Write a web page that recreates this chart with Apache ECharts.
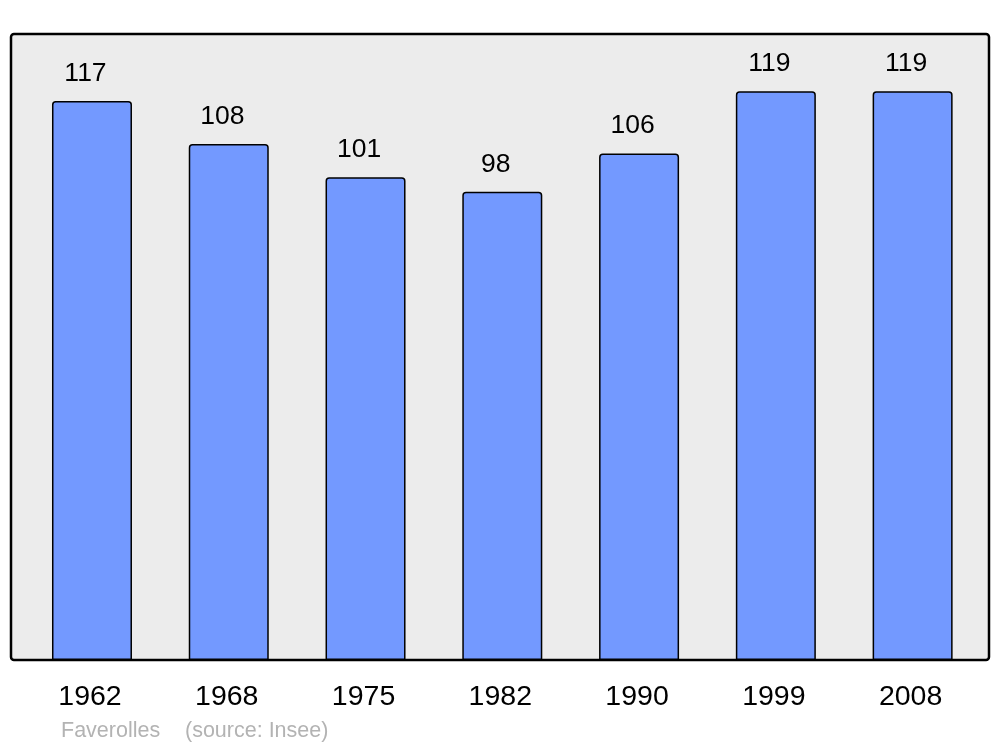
<!DOCTYPE html>
<html><head><meta charset="utf-8">
<script src="https://cdn.jsdelivr.net/npm/echarts@6/dist/echarts.min.js"></script>
<style>html,body{margin:0;padding:0;background:#fff}#c{width:1000px;height:747px}</style>
</head><body><div id="c"></div>
<script>
const categories = ['1962','1968','1975','1982','1990','1999','2008'];
const population = [117,108,101,98,106,119,119];
const footerName = 'Faverolles';
const footerSource = '(source: Insee)';

const chart = echarts.init(document.getElementById('c'), null, {renderer:'canvas'});
chart.setOption({
  animation:false,
  backgroundColor:'#ffffff',
  textStyle:{fontFamily:'Liberation Sans, Arial, sans-serif'},
  graphic:[
    {type:'rect', z:-10, shape:{x:11,y:34,width:978,height:626,r:3},
     style:{fill:'#ececec',stroke:'#000',lineWidth:2.5}},
    {type:'text', left:61, top:720, style:{text:footerName, fill:'#b3b3b3', font:'21.5px "Liberation Sans", Arial, sans-serif'}},
    {type:'text', left:185, top:720, style:{text:footerSource, fill:'#b3b3b3', font:'21.5px "Liberation Sans", Arial, sans-serif'}}
  ],
  grid:{left:23.6, right:19, top:34, bottom:87, containLabel:false},
  xAxis:{type:'category', data:categories, axisLine:{show:false}, axisTick:{show:false},
    axisLabel:{fontSize:28.5, color:'#000', margin:23, padding:[0,4,0,0], fontFamily:'Liberation Sans, Arial, sans-serif'}},
  yAxis:{type:'value', min:0, max:131, show:false, splitLine:{show:false}},
  series:[{type:'bar', data:population, barWidth:80,
    itemStyle:{color:'#7399ff', borderColor:'#000', borderWidth:1.5, borderRadius:[3,3,0,0]},
    label:{show:true, position:'top', distance:14, offset:[-6.5,0], fontSize:26.5, color:'#000',
      fontFamily:'Liberation Sans, Arial, sans-serif'}
  }]
});
</script></body></html>
